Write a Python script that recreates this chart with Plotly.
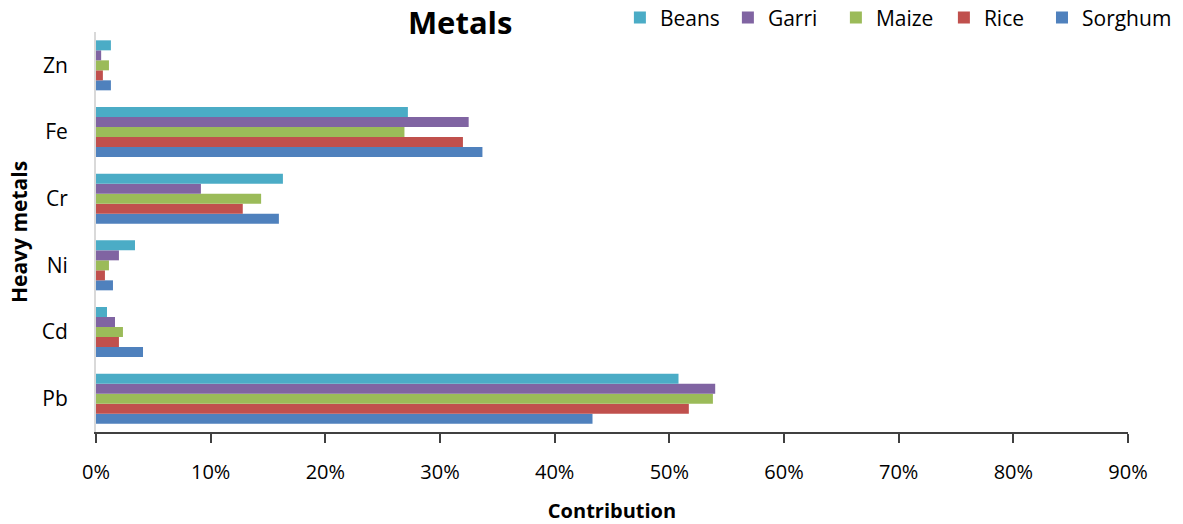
import plotly.graph_objects as go

metals = ["Pb", "Cd", "Ni", "Cr", "Fe", "Zn"]

# Contribution of each metal, in percent
beans = [50.8, 0.96, 3.4, 16.3, 27.2, 1.3]
garri = [54.0, 1.66, 2.0, 9.15, 32.5, 0.45]
maize = [53.8, 2.35, 1.13, 14.4, 26.9, 1.13]
rice = [51.7, 2.0, 0.78, 12.8, 32.0, 0.6]
sorghum = [43.3, 4.1, 1.48, 15.95, 33.7, 1.3]

x_ticks = [0, 10, 20, 30, 40, 50, 60, 70, 80, 90]
x_tick_text = [f"{t}%" for t in x_ticks]

# name, values, colour, legend rank, legend box
series = [
    ("Sorghum", sorghum, "#4F81BD", 5, "legend2"),
    ("Rice", rice, "#C0504D", 4, "legend"),
    ("Maize", maize, "#9BBB59", 3, "legend"),
    ("Garri", garri, "#8064A2", 2, "legend"),
    ("Beans", beans, "#4BACC6", 1, "legend"),
]

FONT = "Open Sans"

fig = go.Figure()
for name, vals, color, rank, lg in series:
    fig.add_trace(go.Bar(
        name=name, y=metals, x=vals, orientation="h",
        marker=dict(color=color, line=dict(width=0)),
        legendrank=rank, legend=lg,
    ))

legend_common = dict(orientation="h", xanchor="left", xref="container",
                     y=0.966, yanchor="middle", yref="container",
                     font=dict(size=21, family=FONT), itemwidth=30, traceorder="normal")

fig.update_layout(
    width=1183, height=524,
    barmode="group", bargap=0.25, bargroupgap=0,
    plot_bgcolor="white", paper_bgcolor="white",
    margin=dict(l=96, r=55, t=32, b=92, autoexpand=False),
    font=dict(family=FONT, color="black"),
    title=dict(text="<b>Metals</b>", x=0.389, xanchor="center", y=0.955, yanchor="middle",
               font=dict(size=31, family=FONT)),
    legend=dict(x=0.524, entrywidth=63, entrywidthmode="pixels", **legend_common),
    legend2=dict(x=0.8808, **legend_common),
    xaxis=dict(range=[0, 90], tickvals=x_ticks, ticktext=x_tick_text,
               showgrid=False, zeroline=False, showline=True, linecolor="#404040", linewidth=2,
               ticks="outside", ticklen=9, tickcolor="#404040", tickwidth=1.5,
               tickfont=dict(size=20), ticklabelstandoff=12,
               title=dict(text="<b>Contribution</b>", font=dict(size=20), standoff=20)),
    yaxis=dict(showgrid=False, zeroline=False, showline=True, linecolor="#D9D9D9", linewidth=2,
               ticks="", tickfont=dict(size=21), ticklabelstandoff=22,
               title=dict(text="<b>Heavy metals</b>", font=dict(size=21), standoff=8)),
)

fig.write_html("out.html")
